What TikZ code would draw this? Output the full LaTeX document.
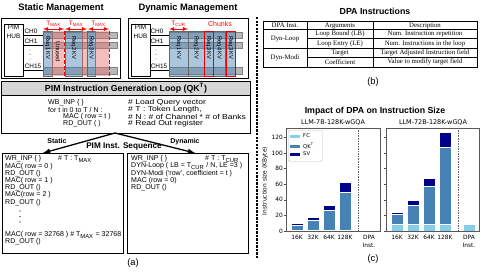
\documentclass[tikz,border=0pt]{standalone}
\usepackage{fontspec}
\setmainfont{Liberation Sans}
\newfontfamily\tabfont{Liberation Serif}
\newfontfamily\plotfont{DejaVu Sans}
\newfontfamily\notefont{Liberation Sans}[FakeStretch=1.2]
\usetikzlibrary{arrows.meta,calc}
\definecolor{kvblue}{RGB}{70,130,180}
\definecolor{kvred}{RGB}{228,110,110}
\definecolor{hdrgray}{RGB}{214,214,214}
\definecolor{fccol}{RGB}{135,206,235}
\definecolor{qkcol}{RGB}{70,130,180}
\definecolor{svcol}{RGB}{0,0,139}
\newcommand{\pxu}{0.03cm}
\newcommand{\fsz}[1]{\fontsize{#1}{#1}\selectfont}

\begin{document}
\begin{tikzpicture}[>=latex, x=0.03cm, y=-0.03cm, font=\fsz{6},
    panel/.style={draw, thick, anchor=north west, inner sep=0pt},
    hub/.style={draw, anchor=north west, inner sep=0pt, line width=0.5pt},
    chbar/.style={fill=black!28, draw=black!50, line width=0.3pt},
    kvcol/.style={fill=kvblue, fill opacity=0.45, draw=black!60, line width=0.3pt},
    idlecol/.style={fill=kvred, fill opacity=0.45},
    kvtext/.style={rotate=-90, font=\fsz{5}, inner sep=0pt},
    dimarrow/.style={<->, red, line width=0.5pt},
    dimtext/.style={red, font=\fsz{5.5}, inner sep=0pt},
    chlabel/.style={font=\fsz{5.5}, inner sep=0pt},
    code/.style={anchor=west, inner sep=0pt, font=\fsz{6}},
    note/.style={anchor=west, inner sep=0pt, font=\notefont\fsz{6.1}},
    plottxt/.style={font=\plotfont\fsz{5}, inner sep=0pt},
    tabtxt/.style={font=\tabfont\fsz{5.8}, inner sep=0pt}]
\useasboundingbox (0,0) rectangle (484,272);

% Static management panel
\node[font=\bfseries\fsz{8}] (stitle) at (61,8) {Static Management};
\node[panel, minimum width=119*\pxu, minimum height=60*\pxu] (spanel) at (1,18) {};
\node[hub, minimum width=19*\pxu, minimum height=52*\pxu] (shub) at (4,24) {};
\node[chlabel, align=center, font=\fontsize{5.5}{7.5}\selectfont] (shubtxt) at (13.5,32) {PIM\\HUB};
\draw[chbar] (43,31.7) rectangle (117,38.3);
\draw[chbar] (43,41.7) rectangle (117,48.3);
\draw[chbar] (43,66.7) rectangle (117,74.3);
\coordinate (sch0) at (43,35);
\coordinate (sch1) at (43,45);
\coordinate (sch15) at (43,70.5);
\draw[line width=0.4pt] (sch0 -| shub.east) -- (sch0);
\draw[line width=0.4pt] (sch1 -| shub.east) -- (sch1);
\draw[line width=0.4pt] (sch15 -| shub.east) -- (sch15);
\node[chlabel] (sl0) at (31,31) {CH0};
\node[chlabel] (sl1) at (31,41) {CH1};
\foreach \dy in {50,54.5,59} \fill (30,\dy) circle (0.4pt);
\node[chlabel] (sl15) at (33,66.5) {CH15};
% request columns
\draw[kvcol] (43,31) rectangle (52,76);
\fill[idlecol] (52,31) rectangle (64,76);
\draw[kvcol] (65,31) rectangle (82,76);
\fill[idlecol] (82,31) rectangle (87,76);
\draw[kvcol] (87,31) rectangle (95,76);
\fill[idlecol] (95,31) rectangle (109,76);
\draw[red, densely dashed, line width=0.4pt] (64,31) -- (64,76) (109,31) -- (109,76);
\node[kvtext] (sreq1) at (47.5,48) {Req1 KV};
\node[kvtext] (sunused) at (58,52) {Unused};
\node[kvtext] (sreq2) at (73.5,48) {Req2 KV};
\node[kvtext] (sreq3) at (91,48) {Req3 KV};
\draw[dimarrow] (43,29) -- (64,29) node[dimtext, midway, above=2pt] (stmax1) {T\textsubscript{MAX}};
\draw[dimarrow] (65,29) -- (87,29) node[dimtext, midway, above=2pt] (stmax2) {T\textsubscript{MAX}};
\draw[dimarrow] (88,29) -- (109,29) node[dimtext, midway, above=2pt] (stmax3) {T\textsubscript{MAX}};

% Dynamic management panel
\node[font=\bfseries\fsz{8}] (dtitle) at (188,8) {Dynamic Management};
\node[panel, minimum width=120*\pxu, minimum height=60*\pxu] (dpanel) at (128,18) {};
\node[hub, minimum width=19*\pxu, minimum height=52*\pxu] (dhub) at (131,24) {};
\node[chlabel, align=center, font=\fontsize{5.5}{7.5}\selectfont] (dhubtxt) at (140.5,32) {PIM\\HUB};
\draw[chbar] (169,31.7) rectangle (242,38.3);
\draw[chbar] (169,41.7) rectangle (242,48.3);
\draw[chbar] (169,66.7) rectangle (242,74.3);
\coordinate (dch0) at (169,35);
\coordinate (dch1) at (169,45);
\coordinate (dch15) at (169,70.5);
\draw[line width=0.4pt] (dch0 -| dhub.east) -- (dch0);
\draw[line width=0.4pt] (dch1 -| dhub.east) -- (dch1);
\draw[line width=0.4pt] (dch15 -| dhub.east) -- (dch15);
\node[chlabel] (dl0) at (157,31) {CH0};
\node[chlabel] (dl1) at (157,41) {CH1};
\foreach \dy in {50,54.5,59} \fill (156,\dy) circle (0.4pt);
\node[chlabel] (dl15) at (159,66.5) {CH15};
% chunked columns
\draw[kvcol] (169,31) rectangle (188,76);
\draw[kvcol] (188,31) rectangle (204,76);
\draw[kvcol] (204,31) rectangle (213,76);
\draw[kvcol] (213,31) rectangle (225,76);
\draw[kvcol] (225,31) rectangle (235,76);
\draw[red!90!black, line width=0.8pt] (204,31) rectangle (213,76) (226,31) rectangle (235,76);
\node[kvtext] (dreq1) at (178.5,48) {Req1 KV};
\node[kvtext] (dreq2) at (196,48) {Req2 KV};
\node[kvtext] (dreq3) at (208.5,48) {Req3 KV};
\node[kvtext] (dreq4) at (219,48) {Req4 KV};
\node[kvtext] (dreq3b) at (230.5,48) {Req3 KV};
\draw[dimarrow] (169,29) -- (188,29) node[dimtext, midway, above=2pt] (dtcur) {T\textsubscript{CUR}};
\node[red, font=\fsz{6}] (chunks) at (220,24) {Chunks};

% Instruction generation loop
\node[panel, fill=hdrgray, minimum width=249*\pxu, minimum height=14*\pxu, font=\bfseries\fsz{7.5}] (lhead) at (1,81) {PIM Instruction Generation Loop (QK\textsuperscript{T})};
\node[panel, minimum width=249*\pxu, minimum height=38*\pxu] (lbody) at (1,95) {};
\node[code] (lc1) at (48,103) {WB\_INP \{ \}};
\node[code] (lc2) at (48,110) {for t in 0 to T / N :};
\node[code] (lc3) at (63,117) {MAC ( row = t )};
\node[code] (lc4) at (63,124) {RD\_OUT ( )};
\node[note] (lm1) at (128,103) {\# Load Query vector};
\node[note] (lm2) at (128,110) {\# T : Token Length,};
\node[note] (lm3) at (128,117) {\# N : \# of Channel * \# of Banks};
\node[note] (lm4) at (128,124) {\# Read Out register};

% Branches to the two sequences
\coordinate (apex) at (115,133);
\coordinate (sarr) at (43,153);
\coordinate (darr) at (195,153);
\draw[->, line width=1.1pt] (apex) -- (sarr);
\draw[->, line width=1.1pt] (apex) -- (darr);
\node[font=\bfseries\fsz{6}] (static) at (57,141) {Static};
\node[font=\bfseries\fsz{6}] (dynamic) at (185,142) {Dynamic};
\node[font=\bfseries\fsz{7}] (seqtitle) at (124,146) {PIM Inst. Sequence};

% Static sequence
\node[panel, minimum width=121*\pxu, minimum height=100*\pxu] (sseq) at (2,153) {};
\foreach \txt [count=\i] in {{WR\_INP \{ \}}, {MAC( row = 0 )}, {RD\_OUT ()}, {MAC( row = 1 )}, {RD\_OUT ()}, {MAC(row = 2 )}, {RD\_OUT ()}}
    \node[code] (sc\i) at (5,151.8+7.2*\i) {\txt};
\node[code] (scm) at (58,159) {\# T : T\textsubscript{MAX}};
\foreach \dy in {211,216.5,222} \fill (20,\dy) circle (0.45pt);
\node[code] (sc8) at (5,235) {MAC( row = 32768 ) \# T\textsubscript{MAX} = 32768};
\node[code] (sc9) at (5,242) {RD\_OUT ()};

% Dynamic sequence
\node[panel, minimum width=121*\pxu, minimum height=100*\pxu] (dseq) at (127,153) {};
\foreach \txt [count=\i] in {{WR\_INP \{ \}}, {DYN-Loop ( LB = T\textsubscript{CUR} / N, LE =3 )}, {DYN-Modi (`row', coefficient = t )}, {MAC (row = 0)}, {RD\_OUT ()}}
    \node[code] (dc\i) at (131,151.8+7.2*\i) {\txt};
\node[code] (dcm) at (205,159) {\# T : T\textsubscript{CUR}};
\node[font=\fsz{8}] (capa) at (133,263) {(a)};

% separator
\draw[line width=1.2pt, dash pattern=on 2pt off 1pt] (257,17) -- (257,258);

% DPA instruction table
\node[font=\bfseries\fsz{7.5}] (btitle) at (375,11) {DPA Instructions};
\draw[line width=0.4pt] (263,21) rectangle (477,67);
\draw[line width=0.4pt] (263,29.5) -- (477,29.5) (263,48) -- (477,48);
\draw[line width=0.4pt] (307,38.5) -- (477,38.5) (307,57.5) -- (477,57.5);
\draw[line width=0.4pt] (307,21) -- (307,67) (373,21) -- (373,67);
\node[tabtxt] (th1) at (285,25.5) {DPA Inst.};
\node[tabtxt] (th2) at (340,25.5) {Arguments};
\node[tabtxt] (th3) at (425,25.5) {Description};
\node[tabtxt] (tloop) at (285,38.7) {Dyn-Loop};
\node[tabtxt] (tmodi) at (285,57.7) {Dyn-Modi};
\foreach \arg/\desc/\ty [count=\i] in {{Loop Bound (LB)}/{Num. Instruction repetition}/34.2, {Loop Entry (LE)}/{Num. Instructions in the loop}/43.4, {Target}/{Target Adjusted Instruction field}/52.9, {Coefficient}/{Value to modify target field}/62.3} {
    \node[tabtxt] (targ\i) at (340,\ty) {\arg};
    \node[tabtxt] (tdesc\i) at (425,\ty) {\desc};
}
\node[font=\fsz{8}] (capb) at (373,82) {(b)};

% Instruction size chart
\node[font=\bfseries\fsz{7.5}] (ctitle) at (375,111) {Impact of DPA on Instruction Size};
\node[plottxt, font=\plotfont\fsz{5.5}] (ptitle1) at (333,123) {LLM-7B-128K-wGQA};
\node[plottxt, font=\plotfont\fsz{5.5}] (ptitle2) at (433,123) {LLM-72B-128K-wGQA};
\node[plottxt, rotate=90] (ylab) at (265,181) {Instruction size (KByte)};
\foreach \v in {0,20,...,120} {
    \draw[black!70, line width=0.3pt] (284,231-0.78*\v) -- (286,231-0.78*\v);
    \draw[black!70, line width=0.3pt] (384,231-0.78*\v) -- (386,231-0.78*\v);
    \node[plottxt, anchor=east] (yt\v) at (283,231-0.78*\v) {\v};
}
\foreach \bx/\fc/\qk/\sv in {297/1.5/7.7/10.3, 313/1.5/14/18, 329/1.5/27/33, 345/1.5/50/63, 369/1.5/2.3/2.8, 397/9/21.8/24.4, 413/9/33.3/39.7, 429/9/57.7/68, 445/9/107.7/127, 469/9/9.5/9.9} {
    \filldraw[svcol, draw=white, line width=0.2pt] (\bx-6,231-0.78*\qk) rectangle (\bx+6,231-0.78*\sv);
    \filldraw[qkcol, draw=white, line width=0.2pt] (\bx-6,231-0.78*\fc) rectangle (\bx+6,231-0.78*\qk);
    \filldraw[fccol, draw=white, line width=0.2pt] (\bx-6,231) rectangle (\bx+6,231-0.78*\fc);
}
\draw[black!65, line width=0.4pt] (286,128) rectangle (380,231);
\draw[black!65, line width=0.4pt] (386,128) rectangle (479,231);
\draw[black!60, densely dotted, line width=0.4pt] (358,128) -- (358,231) (458,128) -- (458,231);
\foreach \bx/\lab [count=\i] in {297/16K, 313/32K, 329/64K, 345/128K, 397/16K, 413/32K, 429/64K, 445/128K}
    \node[plottxt] (xt\i) at (\bx,237.5) {\lab};
\node[plottxt, align=center, font=\plotfont\fontsize{5}{7}\selectfont] (xdpa1) at (369,241) {DPA\\Inst.};
\node[plottxt, align=center, font=\plotfont\fontsize{5}{7}\selectfont] (xdpa2) at (469,241) {DPA\\Inst.};
% legend
\node[draw=black!25, fill=white, rounded corners=1pt, anchor=north west, inner sep=0pt, minimum width=34*\pxu, minimum height=31*\pxu] (legend) at (288,130) {};
\fill[fccol] (290,134.5) rectangle (300,137.5);
\fill[qkcol] (290,144.5) rectangle (300,147.5);
\fill[svcol] (290,152.5) rectangle (300,155.5);
\node[plottxt, anchor=west, font=\plotfont\fsz{4.5}] (lgfc) at (303,136) {FC};
\node[plottxt, anchor=west, font=\plotfont\fsz{4.5}] (lgqk) at (303,146) {QK\textsuperscript{T}};
\node[plottxt, anchor=west, font=\plotfont\fsz{4.5}] (lgsv) at (303,154) {SV};
\node[font=\fsz{8}] (capc) at (373,259) {(c)};
\end{tikzpicture}
\end{document}
